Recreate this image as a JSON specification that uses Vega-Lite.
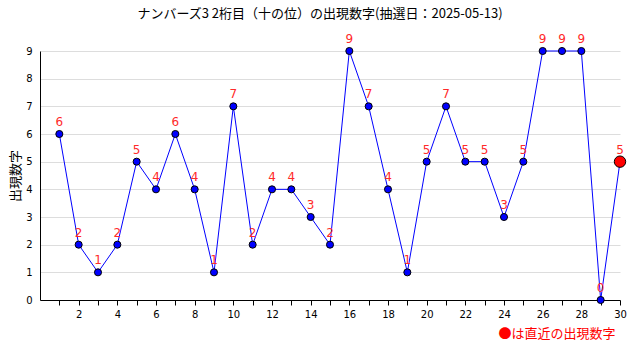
{
  "$schema": "https://vega.github.io/schema/vega-lite/v6.json",
  "width": 580,
  "height": 249,
  "autosize": {"type": "none"},
  "padding": {"left": 40, "top": 51, "right": 20, "bottom": 60},
  "background": "white",
  "title": {
    "text": "ナンバーズ3 2桁目（十の位）の出現数字(抽選日：2025-05-13)",
    "font": "Noto Sans CJK JP",
    "fontSize": 13,
    "fontWeight": "normal",
    "color": "black",
    "anchor": "middle",
    "offset": 12,
    "dx": -10
  },
  "config": {
    "view": {"stroke": null},
    "axis": {"labelFont": "DejaVu Sans", "labelFontSize": 10, "labelColor": "black", "domainColor": "black", "tickColor": "black"}
  },
  "data": {
    "values": [
      {"n": 1, "v": 6}, {"n": 2, "v": 2}, {"n": 3, "v": 1}, {"n": 4, "v": 2}, {"n": 5, "v": 5},
      {"n": 6, "v": 4}, {"n": 7, "v": 6}, {"n": 8, "v": 4}, {"n": 9, "v": 1}, {"n": 10, "v": 7},
      {"n": 11, "v": 2}, {"n": 12, "v": 4}, {"n": 13, "v": 4}, {"n": 14, "v": 3}, {"n": 15, "v": 2},
      {"n": 16, "v": 9}, {"n": 17, "v": 7}, {"n": 18, "v": 4}, {"n": 19, "v": 1}, {"n": 20, "v": 5},
      {"n": 21, "v": 7}, {"n": 22, "v": 5}, {"n": 23, "v": 5}, {"n": 24, "v": 3}, {"n": 25, "v": 5},
      {"n": 26, "v": 9}, {"n": 27, "v": 9}, {"n": 28, "v": 9}, {"n": 29, "v": 0}, {"n": 30, "v": 5}
    ]
  },
  "encoding": {
    "x": {
      "field": "n", "type": "quantitative",
      "scale": {"domain": [0, 30], "nice": false, "zero": false},
      "axis": {
        "values": [1,2,3,4,5,6,7,8,9,10,11,12,13,14,15,16,17,18,19,20,21,22,23,24,25,26,27,28,29,30],
        "labelExpr": "datum.value % 2 === 0 ? datum.label : ''",
        "grid": false, "tickSize": 5, "labelPadding": 4, "labelFlush": false, "labelOverlap": false,
        "title": "●は直近の出現数字",
        "titleColor": "#ff0000", "titleFont": "Noto Sans CJK JP", "titleFontSize": 13, "titleFontWeight": "normal",
        "titleAnchor": "end", "titleAlign": "right", "titleX": 575, "titlePadding": 8
      }
    },
    "y": {
      "field": "v", "type": "quantitative",
      "scale": {"domain": [0, 9], "nice": false},
      "axis": {
        "values": [0,1,2,3,4,5,6,7,8,9],
        "grid": true, "gridColor": "#dddddd", "tickSize": 0, "labelPadding": 8,
        "title": "出現数字", "titleFont": "Noto Sans CJK JP", "titleFontSize": 13, "titleFontWeight": "normal",
        "titleColor": "black", "titlePadding": 3
      }
    }
  },
  "layer": [
    {"mark": {"type": "line", "color": "#0000ff", "strokeWidth": 1}},
    {
      "transform": [{"filter": "datum.n !== 30"}],
      "mark": {"type": "point", "filled": true, "fill": "#0000ff", "stroke": "black", "strokeWidth": 1, "size": 50, "opacity": 1}
    },
    {
      "transform": [{"filter": "datum.n === 30"}],
      "mark": {"type": "point", "filled": true, "fill": "#ff0000", "stroke": "black", "strokeWidth": 1, "size": 130, "opacity": 1}
    },
    {
      "mark": {"type": "text", "color": "#ff2a2a", "font": "DejaVu Sans", "fontSize": 12, "dy": -8, "baseline": "alphabetic"},
      "encoding": {"text": {"field": "v", "type": "quantitative"}}
    }
  ]
}
